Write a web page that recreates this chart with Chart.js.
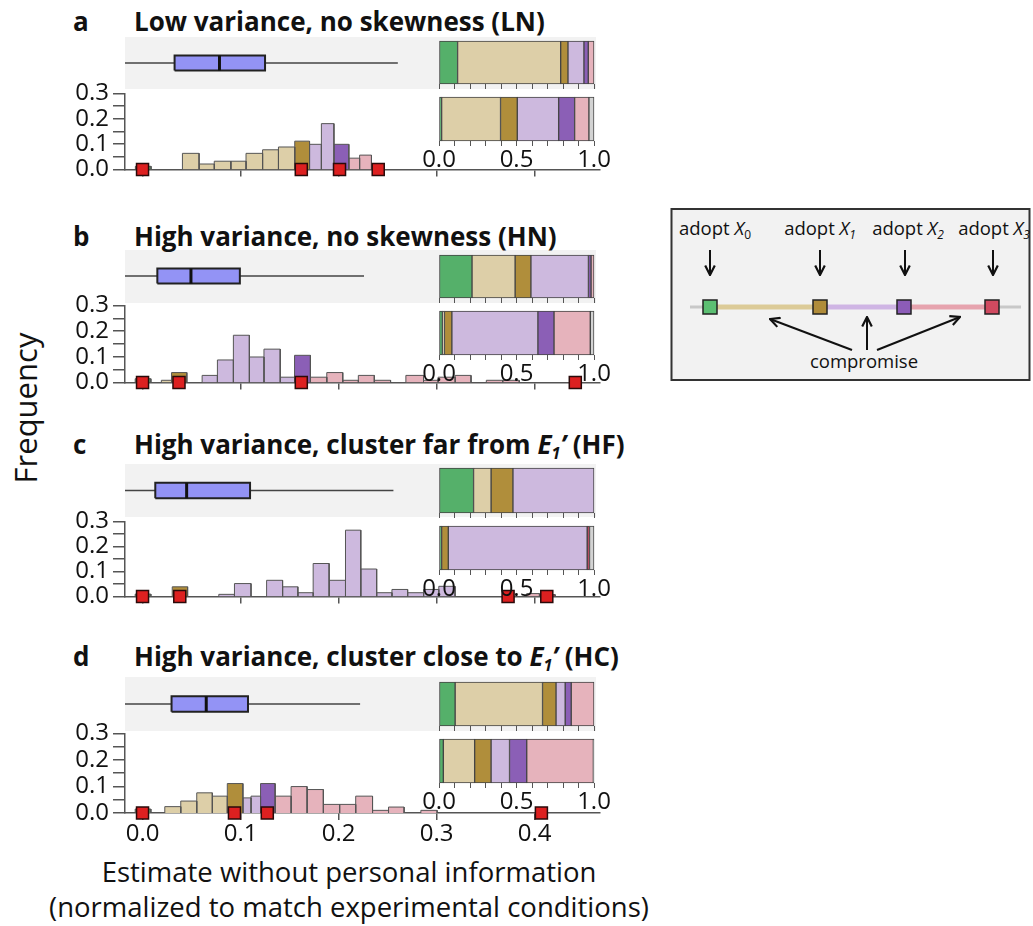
<!DOCTYPE html>
<html>
<head>
<meta charset="utf-8">
<script src="https://cdn.jsdelivr.net/npm/chart.js@4.4.1/dist/chart.umd.min.js"></script>
<style>
  html, body { margin: 0; padding: 0; background: #fff; }
  body { width: 1033px; height: 926px; position: relative; overflow: hidden; font-family: 'Open Sans', sans-serif; color: #111; }
  canvas { position: absolute; }
  .band { position: absolute; background: #f2f2f2; }
  .ttl { position: absolute; font-family: 'Open Sans', sans-serif; font-weight: 700; white-space: nowrap; line-height: 1; }
  .ttl sub { font-size: 0.62em; vertical-align: -0.3em; line-height: 0; }
  .txt { position: absolute; white-space: nowrap; line-height: 1; }
</style>
</head>
<body>

<div class="txt" id="freq" style="font-size:31px;left:25px;top:408px;transform:translate(-50%,-50%) rotate(-90deg);">Frequency</div>
<div class="txt" style="font-size:27.5px;left:349px;top:872px;transform:translate(-50%,-50%);">Estimate without personal information</div>
<div class="txt" style="font-size:27.5px;left:349px;top:907px;transform:translate(-50%,-50%);">(normalized to match experimental conditions)</div>

<svg style="position:absolute;left:670px;top:207px;" width="362" height="176" font-family="'Open Sans', sans-serif">
  <defs>
    <marker id="ah" viewBox="0 0 10 10" refX="9" refY="5" markerWidth="6" markerHeight="6" orient="auto">
      <path d="M1,1 L9,5 L1,9" fill="none" stroke="#111" stroke-width="1.8"/>
    </marker>
  </defs>
  <rect x="1.5" y="2" width="358" height="171" fill="#f2f2f2" stroke="#333" stroke-width="2"/>
  <g font-size="18.5" fill="#111" text-anchor="middle">
    <text x="45" y="28">adopt <tspan font-style="italic">X</tspan><tspan font-size="12" dy="4">0</tspan></text>
    <text x="150" y="28">adopt <tspan font-style="italic">X</tspan><tspan font-size="12" dy="4" font-style="italic">1</tspan></text>
    <text x="238" y="28">adopt <tspan font-style="italic">X</tspan><tspan font-size="12" dy="4" font-style="italic">2</tspan></text>
    <text x="324" y="28">adopt <tspan font-style="italic">X</tspan><tspan font-size="12" dy="4" font-style="italic">3</tspan></text>
    <text x="194" y="161">compromise</text>
  </g>
  <g stroke="#111" stroke-width="2" marker-end="url(#ah)">
    <line x1="40" y1="43" x2="40" y2="68"/>
    <line x1="150" y1="43" x2="150" y2="68"/>
    <line x1="235" y1="43" x2="235" y2="68"/>
    <line x1="323" y1="43" x2="323" y2="68"/>
    <line x1="182" y1="143" x2="100" y2="112"/>
    <line x1="197" y1="143" x2="197" y2="110"/>
    <line x1="207" y1="143" x2="290" y2="110"/>
  </g>
  <line x1="20" y1="100" x2="351" y2="100" stroke="#c8c8c8" stroke-width="3"/>
  <line x1="40" y1="100" x2="150" y2="100" stroke="#dccb98" stroke-width="5"/>
  <line x1="150" y1="100" x2="234" y2="100" stroke="#cfb5e4" stroke-width="5"/>
  <line x1="234" y1="100" x2="322" y2="100" stroke="#e6a3ae" stroke-width="5"/>
  <g stroke="#222" stroke-width="1.5">
    <rect x="33" y="93" width="14" height="14" fill="#5cbf72"/>
    <rect x="143" y="93" width="14" height="14" fill="#b08c3a"/>
    <rect x="227" y="93" width="14" height="14" fill="#8c5cb8"/>
    <rect x="315" y="93" width="14" height="14" fill="#d04a60"/>
  </g>
</svg>

<script>
Chart.defaults.font.family = "'Open Sans', sans-serif";
Chart.defaults.color = '#111';

// categories of response, in stacking order
const catNames = ['adopt X0', 'compromise X0-X1', 'adopt X1', 'compromise X1-X2',
                  'adopt X2', 'compromise X2-X3', 'adopt X3', 'other'];
const catColors = ['#55b06a', '#ddcfa8', '#b08e3b', '#cdb9de', '#8b5fb6', '#e6b3bc', '#c2405a', '#d3d3d3'];

const xTicks = [0, 0.1, 0.2, 0.3, 0.4];
const yTicks = [0, 0.05, 0.1, 0.15, 0.2, 0.25, 0.3];
const shareTicks = [0, 0.1, 0.2, 0.3, 0.4, 0.5, 0.6, 0.7, 0.8, 0.9, 1.0];

// a - low variance, no skewness
const edgesLN = [-0.0073, 0.0087, 0.0407, 0.0577, 0.0732, 0.0901, 0.1056, 0.1225, 0.1387, 0.1553,
                 0.1704, 0.1825, 0.1953, 0.2105, 0.2215, 0.2336];
const freqLN  = [0.013, 0, 0.064, 0.022, 0.033, 0.033, 0.064, 0.078, 0.089, 0.112, 0.0995, 0.181, 0.0995, 0.045, 0.057];
const catLN   = [0, 1, 1, 1, 1, 1, 1, 1, 1, 2, 3, 3, 4, 5, 5];
const adoptLN = [0, 0.162, 0.201, 0.2405];
const boxLN   = [-0.03, 0.0327, 0.0785, 0.125, 0.2605];   // whisker lo, q1, median, q3, whisker hi
const shareTopLN = [0.12, 0.665, 0.047, 0.103, 0.028, 0.037, 0, 0];
const shareBotLN = [0.017, 0.38, 0.108, 0.267, 0.103, 0.092, 0, 0.033];

// b - high variance, no skewness
const edgesHN = [-0.0075, 0.0085, 0.0192, 0.0296, 0.0452, 0.0608, 0.0764, 0.0927, 0.1090, 0.1239, 0.1405,
                 0.1551, 0.1713, 0.1880, 0.2043, 0.2202, 0.2365, 0.2531, 0.2687, 0.2867, 0.3016, 0.3190,
                 0.3352, 0.3508, 0.3675, 0.3844];
const freqHN  = [0.015, 0, 0.009, 0.039, 0, 0.028, 0.088, 0.184, 0.0995, 0.13, 0.021, 0.106, 0.021, 0.039,
                 0.009, 0.028, 0.009, 0, 0.028, 0.009, 0.021, 0.028, 0, 0.009, 0.009];
const catHN   = [0, 1, 1, 2, 3, 3, 3, 3, 3, 3, 3, 4, 5, 5, 5, 5, 5, 5, 5, 5, 5, 5, 5, 5, 5];
const adoptHN = [0, 0.0372, 0.162, 0.4416];
const boxHN   = [-0.03, 0.0151, 0.0494, 0.0993, 0.226];
const shareTopHN = [0.213, 0.278, 0.102, 0.371, 0.017, 0.019, 0, 0];
const shareBotHN = [0.022, 0.013, 0.048, 0.555, 0.104, 0.234, 0, 0.024];

// c - high variance, cluster far from E1'
const edgesHF = [-0.0075, 0.0085, 0.0303, 0.0460, 0.0778, 0.0938, 0.1107, 0.1266, 0.1429, 0.1585, 0.1741,
                 0.1904, 0.2071, 0.2227, 0.2389, 0.2545, 0.2705, 0.2868, 0.3023, 0.3189, 0.3920, 0.4050, 0.4210];
const freqHF  = [0.01, 0, 0.039, 0, 0.009, 0.052, 0, 0.065, 0.039, 0.0155, 0.132, 0.065, 0.265, 0.11,
                 0.0155, 0.0285, 0.0155, 0.0285, 0.041, 0, 0.012, 0.008];
const catHF   = [0, 1, 2, 3, 3, 3, 3, 3, 3, 3, 3, 3, 3, 3, 3, 3, 3, 3, 3, 5, 5, 6];
const adoptHF = [0, 0.038, 0.373, 0.4125];
const boxHF   = [-0.03, 0.013, 0.045, 0.1097, 0.256];
const shareTopHF = [0.223, 0.113, 0.141, 0.523, 0, 0, 0, 0];
const shareBotHF = [0.017, 0, 0.043, 0.896, 0, 0, 0.015, 0.029];

// d - high variance, cluster close to E1'
const edgesHC = [-0.0075, 0.0085, 0.0227, 0.0390, 0.0553, 0.0712, 0.0865, 0.1024, 0.1107, 0.1204, 0.1353,
                 0.1516, 0.1679, 0.1845, 0.2011, 0.2175, 0.2347, 0.2510, 0.2669, 0.2840, 0.3006];
const freqHC  = [0.015, 0, 0.024, 0.045, 0.076, 0.0635, 0.111, 0.057, 0.0635, 0.111, 0.0635, 0.0996,
                 0.0884, 0.0324, 0.0324, 0.0635, 0.01, 0.0224, 0, 0.01];
const catHC   = [0, 1, 1, 1, 1, 1, 2, 3, 3, 4, 5, 5, 5, 5, 5, 5, 5, 5, 5, 5];
const adoptHC = [0, 0.0938, 0.1273, 0.407];
const boxHC   = [-0.03, 0.0296, 0.065, 0.1076, 0.222];
const shareTopHC = [0.104, 0.564, 0.087, 0.059, 0.039, 0.147, 0, 0];
const shareBotHC = [0.028, 0.202, 0.106, 0.119, 0.111, 0.43, 0, 0.004];

// page geometry (px)
const X_MIN = -0.0179, X_MAX = 0.4668;     // histogram / box axis, plot area x 125..600
const BAR_LEFT = 439, BAR_W = 155;          // stacked share bars
const panels = [
  { letter: 'a', title: 'Low variance, no skewness (LN)',
    edges: edgesLN, freq: freqLN, cats: catLN, adopt: adoptLN, box: boxLN, top: shareTopLN, bot: shareBotLN,
    base: 30, band: [37, 89], barTop: [41, 84], barBot: [96.5, 140.5], y03: 90.5, y00: 169.8 },
  { letter: 'b', title: 'High variance, no skewness (HN)',
    edges: edgesHN, freq: freqHN, cats: catHN, adopt: adoptHN, box: boxHN, top: shareTopHN, bot: shareBotHN,
    base: 245, band: [250.3, 302.7], barTop: [254.7, 297.6], barBot: [311.1, 355.1], y03: 303.4, y00: 383.8 },
  { letter: 'c', title: 'High variance, cluster far from <i>E<sub>1</sub>’</i> (HF)',
    edges: edgesHF, freq: freqHF, cats: catHF, adopt: adoptHF, box: boxHF, top: shareTopHF, bot: shareBotHF,
    base: 453, band: [463.8, 517.2], barTop: [468.2, 512.8], barBot: [525.7, 569.6], y03: 518.9, y00: 597.3 },
  { letter: 'd', title: 'High variance, cluster close to <i>E<sub>1</sub>’</i> (HC)',
    edges: edgesHC, freq: freqHC, cats: catHC, adopt: adoptHC, box: boxHC, top: shareTopHC, bot: shareBotHC,
    base: 665, band: [677.3, 731.4], barTop: [682.4, 726.3], barBot: [738.9, 782.8], y03: 731.4, y00: 812.9 },
];

const AXIS = '#555';
const tickFont = { family: "'Open Sans', sans-serif", size: 24 };

function addCanvas(left, top, w, h) {
  const cv = document.createElement('canvas');
  cv.width = Math.round(w); cv.height = Math.round(h);
  cv.style.left = left + 'px'; cv.style.top = top + 'px';
  cv.style.width = Math.round(w) + 'px'; cv.style.height = Math.round(h) + 'px';
  document.body.appendChild(cv);
  return cv.getContext('2d');
}

const baseOpts = {
  responsive: false, animation: false, devicePixelRatio: 1, events: [],
  plugins: { legend: { display: false }, tooltip: { enabled: false } }
};

function histogram(p, showX) {
  // axis boxes are larger than half a tick label, so the plot area stays where it is put
  const yAxisW = 65, padTop = 16, padRight = 12;
  const xAxisH = showX ? 44 : 18;
  const areaH = p.y00 - p.y03;
  const ctx = addCanvas(60, p.y03 - padTop, yAxisW + 475 + padRight, padTop + areaH + xAxisH);

  const datasets = [{
    data: p.adopt.map(x => ({ x: x, y: 0 })),
    showLine: false, pointStyle: 'rect', pointRadius: 8.5,
    pointBackgroundColor: '#dd2020', pointBorderColor: '#2a0a0a', pointBorderWidth: 1.5,
    clip: false, order: 0
  }];
  p.freq.forEach((h, i) => {
    if (!h) return;
    const lo = p.edges[i], hi = p.edges[i + 1];
    datasets.push({
      data: [{ x: lo, y: 0 }, { x: lo, y: h }, { x: hi, y: h }, { x: hi, y: 0 }],
      backgroundColor: catColors[p.cats[i]], borderColor: '#555', borderWidth: 1,
      fill: 'origin', pointRadius: 0, tension: 0, order: 1
    });
  });

  new Chart(ctx, {
    type: 'line',
    data: { datasets },
    options: {
      ...baseOpts,
      layout: { padding: { top: padTop, right: padRight, left: 0, bottom: 0 } },
      scales: {
        x: {
          type: 'linear', min: X_MIN, max: X_MAX,
          afterBuildTicks: s => { s.ticks = xTicks.map(v => ({ value: v })); },
          afterFit: s => { s.height = xAxisH; },
          grid: { drawOnChartArea: false, drawTicks: true, tickLength: 7, color: AXIS, lineWidth: 1.5 },
          border: { display: true, color: AXIS, width: 1.5 },
          ticks: { display: showX, font: tickFont, color: '#111', padding: 0, maxRotation: 0, autoSkip: false,
                   callback: v => v.toFixed(1) }
        },
        y: {
          type: 'linear', min: 0, max: 0.3,
          afterBuildTicks: s => { s.ticks = yTicks.map(v => ({ value: v })); },
          afterFit: s => { s.width = yAxisW; },
          grid: { drawOnChartArea: false, drawTicks: true, tickLength: 12, color: AXIS, lineWidth: 1.5 },
          border: { display: true, color: AXIS, width: 1.5 },
          ticks: { font: tickFont, color: '#111', padding: 4, autoSkip: false,
                   callback: (v, i) => (i % 2 === 0 ? v.toFixed(1) : '') }
        }
      }
    }
  });
}

function boxplot(p) {
  const h = p.band[1] - p.band[0];
  const ctx = addCanvas(125, p.band[0], 475, h);
  const b = p.box, lo = 0.355, hi = 0.645;
  new Chart(ctx, {
    type: 'line',
    data: { datasets: [
      { data: [{ x: b[2], y: lo }, { x: b[2], y: hi }], borderColor: '#111', borderWidth: 3, pointRadius: 0, order: 0 },
      { data: [{ x: b[1], y: lo }, { x: b[1], y: hi }, { x: b[3], y: hi }, { x: b[3], y: lo }, { x: b[1], y: lo }],
        backgroundColor: '#9393f5', borderColor: '#222', borderWidth: 2, fill: 'shape', pointRadius: 0, order: 1 },
      { data: [{ x: b[0], y: 0.5 }, { x: b[4], y: 0.5 }], borderColor: '#444', borderWidth: 1.5, pointRadius: 0, order: 2 }
    ] },
    options: {
      ...baseOpts,
      layout: { padding: 0 },
      scales: {
        x: { type: 'linear', min: X_MIN, max: X_MAX, display: false },
        y: { type: 'linear', min: 0, max: 1, display: false }
      }
    }
  });
}

function shareBar(shares, yr, showLabels) {
  const pad = 24, padTop = 2;
  const axisH = showLabels ? 36 : 6;
  const barH = yr[1] - yr[0];
  const ctx = addCanvas(BAR_LEFT - pad, yr[0] - padTop, BAR_W + 2 * pad, padTop + barH + axisH);
  const datasets = [];
  shares.forEach((v, i) => {
    if (!v) return;
    datasets.push({ label: catNames[i], data: [v], backgroundColor: catColors[i], borderColor: '#444',
                    borderWidth: 1, borderSkipped: false, barPercentage: 1, categoryPercentage: 1, clip: false });
  });
  new Chart(ctx, {
    type: 'bar',
    data: { labels: [''], datasets },
    options: {
      ...baseOpts,
      indexAxis: 'y',
      layout: { padding: { top: padTop, left: pad, right: pad, bottom: 0 } },
      scales: {
        x: {
          type: 'linear', stacked: true, min: 0, max: 1,
          afterBuildTicks: s => { s.ticks = shareTicks.map(v => ({ value: v })); },
          afterFit: s => { s.height = axisH; },
          grid: { drawOnChartArea: false, drawTicks: true, tickLength: 5, color: AXIS, lineWidth: 1 },
          border: { display: false },
          ticks: { display: showLabels, font: tickFont, color: '#111', padding: 0, maxRotation: 0, autoSkip: false,
                   callback: (v, i) => (i % 5 === 0 ? v.toFixed(1) : '') }
        },
        y: { stacked: true, display: false }
      }
    }
  });
}

// panel titles: size fitted so that title a spans x 134..545
const probe = document.createElement('span');
probe.className = 'ttl';
probe.style.fontSize = '100px';
probe.innerHTML = panels[0].title;
document.body.appendChild(probe);
const titleSize = 100 * 411 / probe.offsetWidth;
probe.remove();

panels.forEach((p, k) => {
  const band = document.createElement('div');
  band.className = 'band';
  band.style.left = '125px'; band.style.width = '471px';
  band.style.top = p.band[0] + 'px'; band.style.height = (p.band[1] - p.band[0]) + 'px';
  document.body.appendChild(band);

  [[p.letter, 73], [p.title, 134]].forEach(([html, x]) => {
    const t = document.createElement('div');
    t.className = 'ttl';
    t.style.fontSize = titleSize + 'px';
    t.style.left = x + 'px';
    t.style.top = (p.base - 0.83 * titleSize) + 'px';
    t.innerHTML = html;
    document.body.appendChild(t);
  });

  boxplot(p);
  histogram(p, k === panels.length - 1);
  shareBar(p.top, p.barTop, false);
  shareBar(p.bot, p.barBot, true);
});
</script>
</body>
</html>
